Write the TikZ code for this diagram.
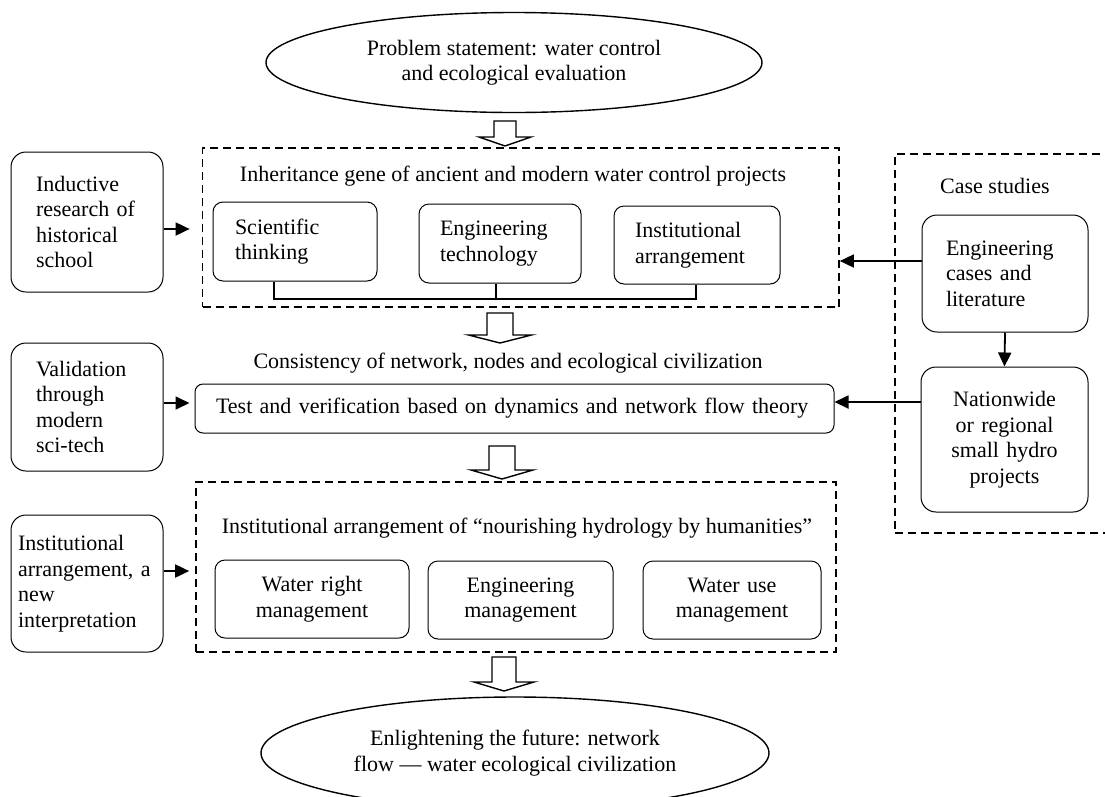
\documentclass[tikz,border=0pt]{standalone}
\usepackage{fontspec}
\setmainfont{Liberation Serif}
\usetikzlibrary{shapes.geometric,arrows.meta,calc}
\newcommand\blkarr[6]{%
  \draw[blk] (#1-#5,#2) -- (#1+#5,#2) -- (#1+#5,#3) -- (#1+#6,#3) -- (#1,#4) -- (#1-#6,#3) -- (#1-#5,#3) -- cycle;}
\begin{document}
\begin{tikzpicture}[x=1pt,y=-1pt,
  every node/.style={font=\fontsize{22}{25.5}\selectfont},
  rbox/.style={draw,line width=1pt,rounded corners=#1,inner ysep=0pt},
  rbox/.default=10pt,
  dbox/.style={draw,line width=1.7pt,dash pattern=on 8pt off 5pt,inner sep=0pt},
  oval/.style={draw,ellipse,line width=1.4pt,align=center,inner sep=0pt},
  lbl/.style={inner sep=0pt},
  arr/.style={line width=1.8pt,-{Triangle[length=14pt,width=13pt]}},
  conn/.style={line width=1.4pt},
  blk/.style={line width=1.4pt,line join=miter}]
\useasboundingbox (0,0) rectangle (1105,796);
\fill[white] (0,0) rectangle (1105,796);
\clip (0,0) rectangle (1105,796);

% top ellipse
\node[oval,minimum width=496pt,minimum height=100pt] (top) at (514,62.5)
  {Problem statement: water control\\and ecological evaluation};

% group 1
\node[dbox,minimum width=636.5pt,minimum height=159pt] (g1) at (520.75,227.5) {};
\node[lbl] (t1) at (513,176) {Inheritance gene of ancient and modern water control projects};
\node[rbox,inner xsep=22pt,text width=120pt,align=left,minimum height=79pt] (sci) at (295,241.5) {Scientific\\thinking};
\node[rbox,inner xsep=21pt,text width=120pt,align=left,minimum height=79pt] (eng) at (500,243.5) {Engineering\\technology};
\node[rbox,inner xsep=21pt,text width=124pt,align=left,minimum height=78pt] (ins) at (697,245) {Institutional\\arrangement};
\coordinate (busL) at (274,299);
\coordinate (busM) at (496,299);
\coordinate (busR) at (696,299);
\draw[conn] (sci.south -| busL) -- (busL) -- (busR) -- (ins.south -| busR);
\draw[conn] (eng.south -| busM) -- (busM);

% left boxes
\node[rbox=15pt,inner xsep=25pt,text width=102pt,align=left,minimum height=140pt] (lb1) at (87,222)
  {Inductive\\research of\\historical\\school};
\node[rbox=15pt,inner xsep=25pt,text width=102pt,align=left,minimum height=128pt] (lb2) at (87,407)
  {Validation\\through\\modern\\sci-tech};
\node[rbox=15pt,inner xsep=7pt,text width=138pt,align=left,minimum height=137pt] (lb3) at (87,583.5)
  {Institutional\\arrangement, a\\new\\interpretation};

% case studies
\node[dbox,minimum width=225pt,minimum height=379pt] (g2) at (1007.5,343.5) {};
\node[lbl,anchor=west] (cs) at (940,186) {Case studies};
\node[rbox=15pt,inner xsep=24pt,text width=118pt,align=left,minimum height=117pt] (ec) at (1005,273.5)
  {Engineering\\cases and\\literature};
\node[rbox=15pt,inner xsep=10pt,text width=147pt,align=center,minimum height=145pt] (nw) at (1004.5,439.5)
  {Nationwide\\or regional\\small hydro\\projects};

% middle
\node[lbl] (t2) at (508,363) {Consistency of network, nodes and ecological civilization};
\node[rbox=8pt,inner xsep=21pt,text width=597pt,align=left,minimum height=49pt] (test) at (514.5,408.5)
  {Test and verification based on dynamics and network flow theory};

% group 3
\node[dbox,minimum width=640pt,minimum height=170pt] (g3) at (516,567) {};
\node[lbl] (t3) at (517,528) {Institutional arrangement of “nourishing hydrology by humanities”};
\node[rbox,inner xsep=10pt,text width=174pt,align=center,minimum height=78pt] (wr) at (312,599) {Water right\\management};
\node[rbox,inner xsep=10pt,text width=165pt,align=center,minimum height=78pt] (em) at (520.5,600) {Engineering\\management};
\node[rbox,inner xsep=10pt,text width=158pt,align=center,minimum height=78pt] (wu) at (732,600) {Water use\\management};

% bottom ellipse
\node[oval,minimum width=508pt,minimum height=112pt] (bot) at (515,753)
  {Enlightening the future: network\\flow — water ecological civilization};

% block arrows
\blkarr{505}{121}{137}{146}{11}{26}
\blkarr{500}{313}{335}{343}{13}{31.5}
\blkarr{502}{446}{470}{479}{13}{31}
\blkarr{504}{657}{682}{691}{12}{30}

% connectors
\draw[arr,shorten >=12pt] ([yshift=-7pt]lb1.east) -- ([yshift=-7pt]lb1.east -| g1.west);
\draw[arr,shorten >=5pt] ([yshift=4pt]lb2.east) -- ([yshift=4pt]lb2.east -| test.west);
\draw[arr,shorten >=6pt] ([yshift=12.5pt]lb3.east) -- ([yshift=12.5pt]lb3.east -| g3.west);
\draw[arr] ([yshift=12.5pt]ec.west) -- ([yshift=12.5pt]ec.west -| g1.east);
\draw[arr] (ec.south) -- (nw.north);
\draw[arr] ([yshift=37.5pt]nw.west) -- ([yshift=37.5pt]nw.west -| test.east);
\end{tikzpicture}
\end{document}
